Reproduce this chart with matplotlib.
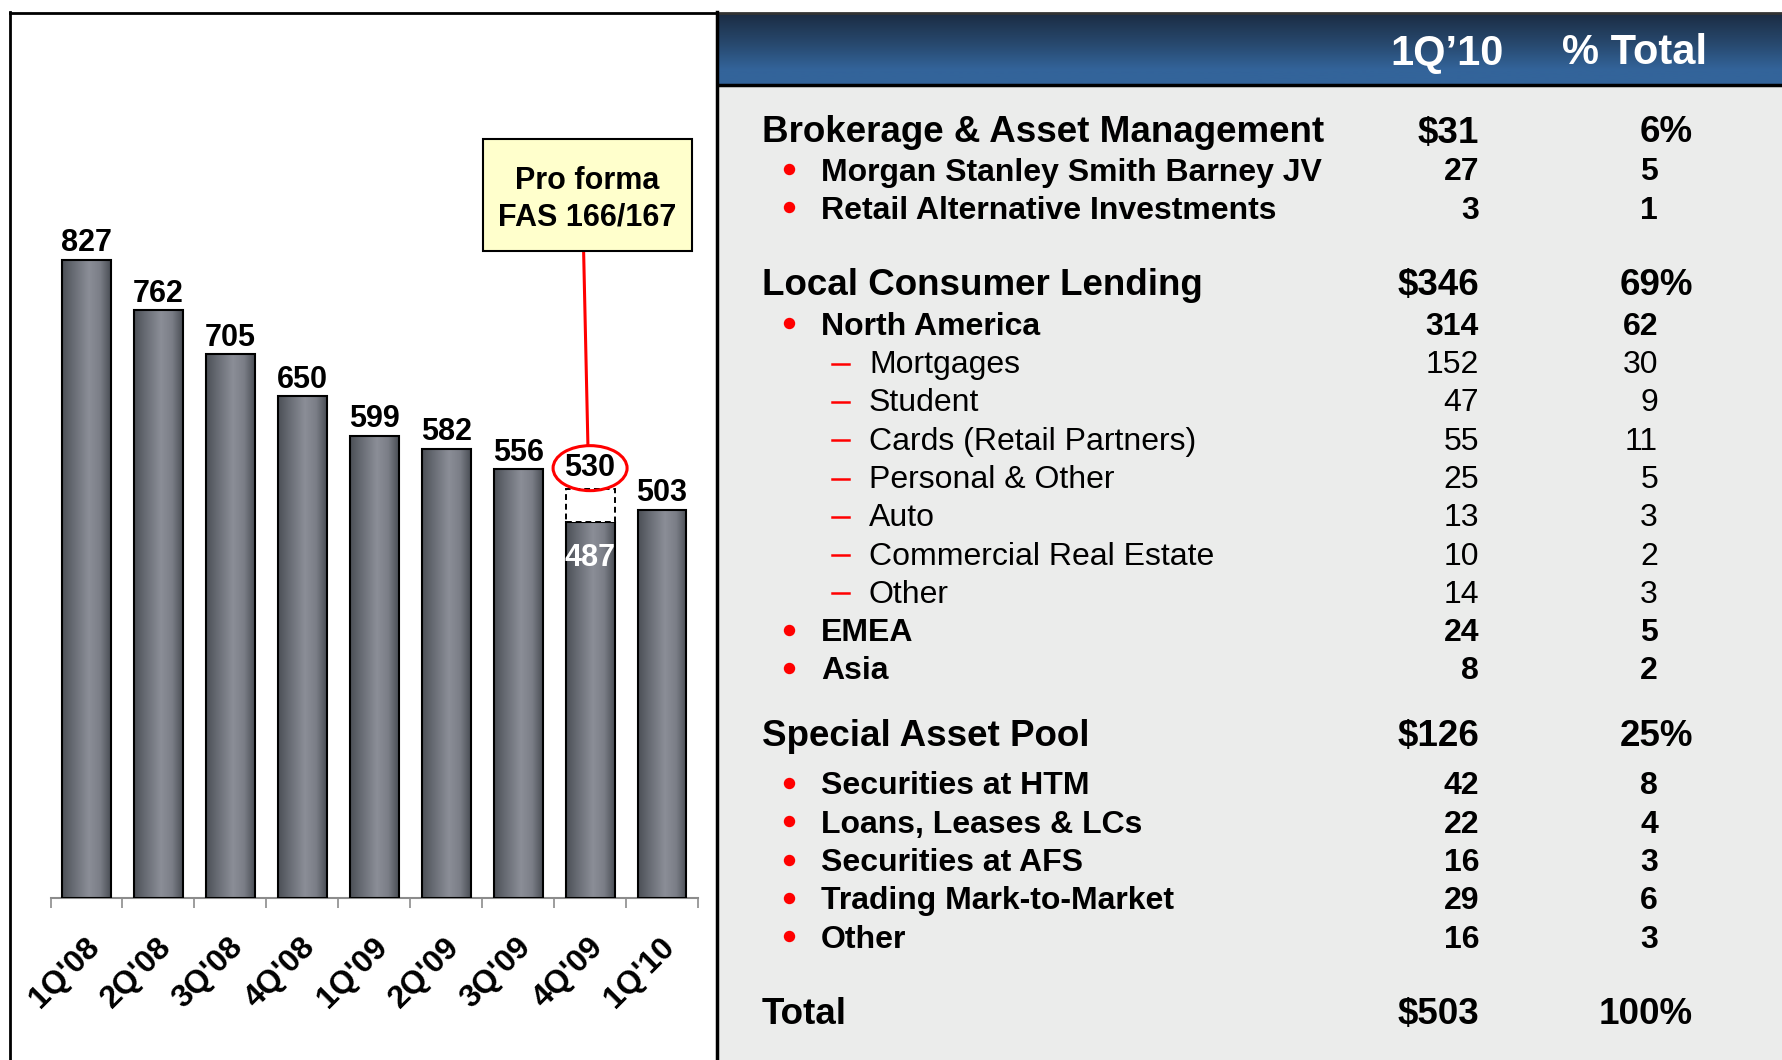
import numpy as np
import matplotlib
matplotlib.use("Agg")
import matplotlib.pyplot as plt
from matplotlib.colors import LinearSegmentedColormap
from matplotlib.patches import Rectangle, Ellipse

plt.rcParams['font.family'] = ['Liberation Sans', 'DejaVu Sans']

# left chart: assets by quarter ($B)
quarters = ["1Q'08", "2Q'08", "3Q'08", "4Q'08", "1Q'09", "2Q'09", "3Q'09", "4Q'09", "1Q'10"]
assets = [827, 762, 705, 650, 599, 582, 556, 487, 503]
pro_forma_quarter = "4Q'09"
pro_forma_value = 530
callout_text = "Pro forma\nFAS 166/167"

# right table
table_header = ["1Q\u201910", "% Total"]
group_names = ["Brokerage & Asset Management", "Local Consumer Lending", "Special Asset Pool"]
group_values = [31, 346, 126]
group_pct = [6, 69, 25]

bam_items = ["Morgan Stanley Smith Barney JV", "Retail Alternative Investments"]
bam_values = [27, 3]
bam_pct = [5, 1]
bam_level = [1, 1]

lcl_items = ["North America", "Mortgages", "Student", "Cards (Retail Partners)",
             "Personal & Other", "Auto", "Commercial Real Estate", "Other", "EMEA", "Asia"]
lcl_values = [314, 152, 47, 55, 25, 13, 10, 14, 24, 8]
lcl_pct = [62, 30, 9, 11, 5, 3, 2, 3, 5, 2]
lcl_level = [1, 2, 2, 2, 2, 2, 2, 2, 1, 1]

sap_items = ["Securities at HTM", "Loans, Leases & LCs", "Securities at AFS",
             "Trading Mark-to-Market", "Other"]
sap_values = [42, 22, 16, 29, 16]
sap_pct = [8, 4, 3, 6, 3]
sap_level = [1, 1, 1, 1, 1]

total_label = "Total"
total_value = 503
total_pct = 100

W, H = 1782, 1060
fig = plt.figure(figsize=(W / 100, H / 100), dpi=100)

# background / table axes in pixel coords
bg = fig.add_axes([0, 0, 1, 1])
bg.set_xlim(0, W)
bg.set_ylim(H, 0)
bg.axis('off')

hdr_cmap = LinearSegmentedColormap.from_list(
    'hdr', [(0, '#1b2c43'), (0.45, '#284a70'), (0.8, '#33649a'), (1, '#33649a')])
bg.imshow(np.linspace(0, 1, 100).reshape(-1, 1), extent=[718, W, 84, 13],
          cmap=hdr_cmap, aspect='auto', zorder=1)
bg.add_patch(Rectangle((718, 85), W - 718, H - 85, fc='#ebeceb', ec='none', zorder=1))
bg.plot([10, 717], [13, 13], color='black', lw=2, zorder=3)
bg.plot([718, W], [13, 13], color='#333333', lw=2, zorder=3)
bg.plot([10, 10], [12, H], color='black', lw=2, zorder=3)
bg.plot([717, 717], [12, H], color='black', lw=2.5, zorder=3)
bg.plot([718, W], [85, 85], color='black', lw=2.5, zorder=3)
bg.set_xlim(0, W)
bg.set_ylim(H, 0)

bg.text(1447, 49, table_header[0], color='white', fontsize=30, fontweight='bold',
        ha='center', va='center_baseline')
bg.text(1635, 49, table_header[1], color='white', fontsize=30, fontweight='bold',
        ha='center', va='center_baseline')


def table_row(y, label, value, pct, level, money=False):
    if level == 0:
        size, weight, x = 26.5, 'bold', 762
    elif level == 1:
        size, weight, x = 23, 'bold', 821
        bg.plot(789, y, 'o', color='#ff0000', ms=7.2, zorder=4)
    else:
        size, weight, x = 23, 'normal', 869
        bg.plot([832, 849], [y + 2, y + 2], color='#ff0000', lw=1.8, zorder=4)
    bg.text(x, y, label, fontsize=size, fontweight=weight, ha='left', va='center_baseline')
    val = ('$' if money else '') + str(value)
    bg.text(1479, y, val, fontsize=size, fontweight=weight, ha='right', va='center_baseline')
    if level == 0:
        bg.text(1693, y, f"{pct}%", fontsize=size, fontweight=weight, ha='right', va='center_baseline')
    else:
        bg.text(1658, y, str(pct), fontsize=size, fontweight=weight, ha='right', va='center_baseline')


groups = [(bam_items, bam_values, bam_pct, bam_level),
          (lcl_items, lcl_values, lcl_pct, lcl_level),
          (sap_items, sap_values, sap_pct, sap_level)]
header_gap = [40, 42, 50]
after_gap = [74, 65, 74]
step = 38.3
y = 129
for g, (items, vals, pcts, levels) in enumerate(groups):
    table_row(y, group_names[g], group_values[g], group_pct[g], 0, money=True)
    y += header_gap[g]
    for k in range(len(items)):
        table_row(y, items[k], vals[k], pcts[k], levels[k])
        if k < len(items) - 1:
            y += step
    y += after_gap[g]
table_row(y, total_label, total_value, total_pct, 0, money=True)

# bar chart
base_px = 898.3
ppu = 0.772
ax = fig.add_axes([50.5 / W, (H - base_px) / H, (698 - 50.5) / W, (base_px - 12) / H])
ax.patch.set_alpha(0)
x = np.arange(len(quarters))
bw = 0.68
bar_cmap = LinearSegmentedColormap.from_list(
    'bar', [(0, '#4b4f56'), (0.22, '#666a72'), (0.55, '#8b8e97'), (0.78, '#7b7e87'), (1, '#4a4e55')])
grad = np.linspace(0, 1, 256).reshape(1, -1)
bars = ax.bar(x, assets, width=bw, color='none', edgecolor='black', linewidth=1.5, zorder=3)
for b in bars:
    ax.imshow(grad, extent=[b.get_x(), b.get_x() + b.get_width(), 0, b.get_height()],
              cmap=bar_cmap, aspect='auto', zorder=2)

idx = quarters.index(pro_forma_quarter)
ax.add_patch(Rectangle((idx - bw / 2, assets[idx]), bw, pro_forma_value - assets[idx],
                       fc='white', ec='black', lw=1.4, ls=(0, (3, 2)), zorder=3))

lab_size = 22
for i, v in enumerate(assets):
    if i == idx:
        continue
    ax.annotate(str(v), (i, v), xytext=(0, 14.4), textcoords='offset points',
                ha='center', va='center_baseline', fontsize=lab_size, fontweight='bold')
ax.annotate(str(pro_forma_value), (idx, pro_forma_value), xytext=(0, 18), textcoords='offset points',
            ha='center', va='center_baseline', fontsize=lab_size, fontweight='bold', zorder=6)
ax.annotate(str(assets[idx]), (idx, assets[idx]), xytext=(0, -23), textcoords='offset points',
            ha='center', va='center_baseline', fontsize=lab_size, fontweight='bold', color='white', zorder=6)

# red circle round the pro forma value, callout box and leader line
cat_px = (698 - 50.5) / len(quarters)
ell_y = pro_forma_value + 21 / ppu
ell_h = 45 / ppu
ax.add_patch(Ellipse((idx, ell_y), 74 / cat_px, ell_h, fill=False, ec='#ff0000', lw=2.2,
                     zorder=5, clip_on=False))

box_x = idx - 0.04
box_y = (base_px - 195) / ppu
box_w = 209 / cat_px
box_h = 112 / ppu
ax.add_patch(Rectangle((box_x - box_w / 2, box_y - box_h / 2), box_w, box_h,
                       fc='#ffffcc', ec='black', lw=1.5, zorder=6, clip_on=False))
ax.text(box_x, box_y - 4.5 / ppu, callout_text, ha='center', va='center', fontsize=22,
        fontweight='bold', linespacing=1.3, zorder=7)
ax.plot([box_x - 0.05, idx - 0.03], [box_y - box_h / 2, ell_y + ell_h / 2],
        color='#ff0000', lw=2.2, zorder=5, solid_capstyle='butt')

ax.set_xlim(-0.5, len(quarters) - 0.5)
ax.set_ylim(0, (base_px - 12) / ppu)
ax.set_xticks(x - 0.03)
ax.set_xticklabels(quarters, rotation=45, ha='right', rotation_mode='anchor',
                   fontsize=23, fontweight='bold')
ax.tick_params(axis='x', which='major', length=0, pad=24)
ax.set_xticks(np.arange(-0.5, len(quarters)), minor=True)
ax.tick_params(axis='x', which='minor', length=7.2, width=1.2, color='#8c8c8c', direction='out')
ax.set_yticks([])
for s in ['left', 'right', 'top']:
    ax.spines[s].set_visible(False)
ax.spines['bottom'].set_color('#8c8c8c')
ax.spines['bottom'].set_linewidth(1.5)

fig.savefig('out.png', dpi=100)
